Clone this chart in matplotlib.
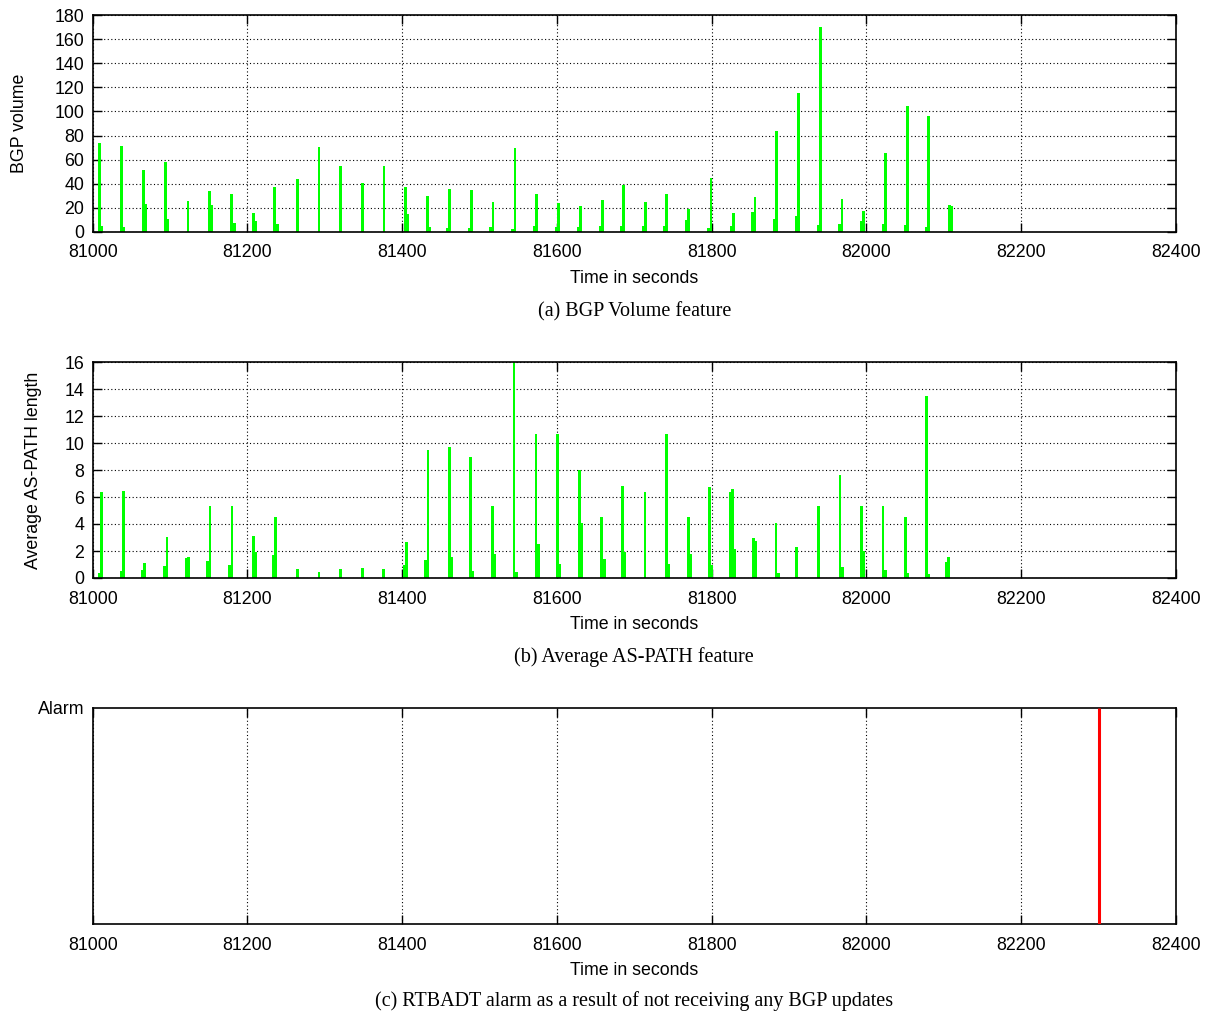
import matplotlib
matplotlib.use("Agg")
import matplotlib.pyplot as plt

# ---------------- data ----------------
# (a) BGP volume: main spikes and their small neighbour spikes
vol_time = [81008.6, 81037.0, 81065.5, 81094.4, 81123.3, 81151.3, 81179.8, 81207.4,
            81235.4, 81264.3, 81292.3, 81320.4, 81348.8, 81376.4, 81404.4, 81432.9,
            81461.4, 81489.5, 81517.2, 81545.6, 81574.0, 81602.0, 81630.5, 81658.5,
            81686.1, 81714.0, 81742.0, 81770.0, 81799.0, 81827.8, 81855.8, 81884.0,
            81912.4, 81940.9, 81968.5, 81996.5, 82025.0, 82052.7, 82080.5, 82106.9]
vol_value = [73.5, 71.5, 51.6, 58.2, 25.5, 33.6, 31.6, 15.6,
             37.4, 43.6, 70.5, 54.7, 40.5, 54.7, 37.4, 29.4,
             35.5, 34.7, 24.7, 69.6, 31.6, 23.6, 21.4, 26.6,
             38.6, 24.7, 31.6, 18.6, 44.7, 15.6, 28.6, 83.8,
             115.4, 170.6, 27.5, 17.5, 65.5, 104.6, 96.5, 22.5]
vol_time2 = [81011.6, 81040.0, 81068.5, 81097.4, 81154.3, 81182.8, 81210.4, 81238.4,
             81407.4, 81435.9, 81458.4, 81486.5, 81514.2, 81542.6, 81571.0, 81599.0,
             81627.5, 81655.5, 81683.1, 81711.0, 81739.0, 81767.0, 81796.0, 81824.8,
             81852.8, 81881.0, 81909.4, 81937.9, 81965.5, 81993.5, 82022.0, 82049.7,
             82077.5, 82109.9]
vol_value2 = [4.7, 3.6, 23.0, 10.6, 22.0, 7.0, 8.9, 6.4,
              14.7, 3.6, 3.0, 3.0, 4.0, 2.0, 4.7, 4.0,
              4.0, 5.0, 5.0, 5.0, 5.0, 9.7, 3.0, 4.7,
              16.6, 10.6, 13.0, 5.3, 6.4, 8.6, 6.4, 5.3,
              3.6, 21.5]

# (b) average AS-PATH length
asp_time = [81011.2, 81039.4, 81066.9, 81096.1, 81123.7, 81151.7, 81180.2, 81207.8,
            81236.2, 81264.3, 81292.4, 81320.4, 81348.4, 81376.0, 81405.3, 81433.3,
            81460.9, 81488.0, 81516.5, 81544.6, 81573.0, 81601.0, 81628.7, 81658.0,
            81684.7, 81713.6, 81741.3, 81769.8, 81796.9, 81826.6, 81854.2, 81883.1,
            81909.8, 81938.3, 81965.8, 81993.9, 82021.5, 82050.0, 82077.7, 82106.1]
asp_value = [6.37, 6.47, 1.11, 3.06, 1.56, 5.33, 5.33, 3.11,
             4.54, 0.69, 0.44, 0.64, 0.77, 0.69, 2.64, 9.48,
             9.73, 8.99, 5.33, 16.0, 10.64, 10.64, 8.0, 4.54,
             6.79, 6.37, 10.64, 4.54, 6.74, 6.57, 2.96, 4.07,
             2.32, 5.33, 7.65, 5.33, 5.33, 4.49, 13.48, 1.56]
asp_time2 = [81008.2, 81036.4, 81063.9, 81093.1, 81120.7, 81148.7, 81177.2, 81210.8,
             81233.2, 81402.3, 81430.3, 81463.9, 81491.0, 81519.5, 81547.6, 81576.0,
             81604.0, 81631.7, 81661.0, 81687.7, 81744.3, 81772.8, 81799.9, 81823.6,
             81829.6, 81857.2, 81886.1, 81912.8, 81968.8, 81996.9, 82024.5, 82053.0,
             82080.7, 82103.1]
asp_value2 = [0.35, 0.54, 0.62, 0.86, 1.5, 1.26, 0.94, 1.9,
              1.7, 0.94, 1.31, 1.58, 0.55, 1.75, 0.42, 2.54,
              1.04, 4.07, 1.43, 1.9, 1.04, 1.75, 0.96, 6.37,
              2.12, 2.72, 0.4, 0.1, 0.8, 1.98, 0.62, 0.35,
              0.27, 1.22]

# (c) RTBADT alarm
alarm_time = [82300]
alarm_value = [1]

x_ticks = [81000, 81200, 81400, 81600, 81800, 82000, 82200, 82400]
captions = ["(a) BGP Volume feature",
            "(b) Average AS-PATH feature",
            "(c) RTBADT alarm as a result of not receiving any BGP updates"]

# ---------------- style ----------------
plt.rcParams['font.family'] = ['Liberation Sans', 'DejaVu Sans']
SANS = 12.8
SERIF_FAM = ['Liberation Serif', 'DejaVu Serif']
GREEN = '#00ff00'
BAR_W = 3.5

W, H = 1212, 1019
fig = plt.figure(figsize=(W / 100, H / 100), dpi=100)

left = 92.7 / W
width = (1176 - 92.7) / W
panels = [(15.3, 231.7), (362, 578), (708, 924.3)]
axes = []
for top, bot in panels:
    ax = fig.add_axes([left, 1 - bot / H, width, (bot - top) / H])
    axes.append(ax)


def style(ax):
    ax.set_xlim(81000, 82400)
    ax.set_xticks(x_ticks)
    ax.set_xticklabels([str(t) for t in x_ticks])
    ax.tick_params(direction='in', length=6.5, width=1.0, top=True, right=True,
                   labelsize=SANS, pad=9)
    ax.tick_params(axis='y', pad=6)
    for s in ax.spines.values():
        s.set_linewidth(1.2)
    ax.grid(True, color='black', linestyle=(0, (1, 2.2)), linewidth=0.8)
    ax.set_axisbelow(True)
    ax.set_xlabel("Time in seconds", fontsize=SANS, labelpad=6)


# (a)
ax = axes[0]
ax.bar(vol_time, vol_value, width=BAR_W, color=GREEN, linewidth=0, zorder=2)
ax.bar(vol_time2, vol_value2, width=BAR_W, color=GREEN, linewidth=0, zorder=2)
ax.set_ylim(0, 180)
ax.set_yticks(range(0, 181, 20))
style(ax)
ax.set_ylabel("BGP volume", fontsize=SANS, labelpad=19)

# (b)
ax = axes[1]
ax.bar(asp_time, asp_value, width=BAR_W, color=GREEN, linewidth=0, zorder=2)
ax.bar(asp_time2, asp_value2, width=BAR_W, color=GREEN, linewidth=0, zorder=2)
ax.set_ylim(0, 16)
ax.set_yticks(range(0, 17, 2))
style(ax)
ax.set_ylabel("Average AS-PATH length", fontsize=SANS, labelpad=16)

# (c)
ax = axes[2]
ax.vlines(alarm_time, 0, alarm_value, color='#ff0000', linewidth=2.2, zorder=3)
ax.set_ylim(0, 1)
ax.set_yticks([1])
ax.set_yticklabels(["Alarm"])
style(ax)
ax.grid(False, axis='y')
ax.tick_params(axis='y', length=0)

# captions
for cy, cap in zip([312, 657, 1001], captions):
    fig.text((92.7 + 1176) / 2 / W, 1 - cy / H, cap, ha='center', va='center',
             fontsize=14.5, family=SERIF_FAM)

fig.savefig("out.png", dpi=100)
